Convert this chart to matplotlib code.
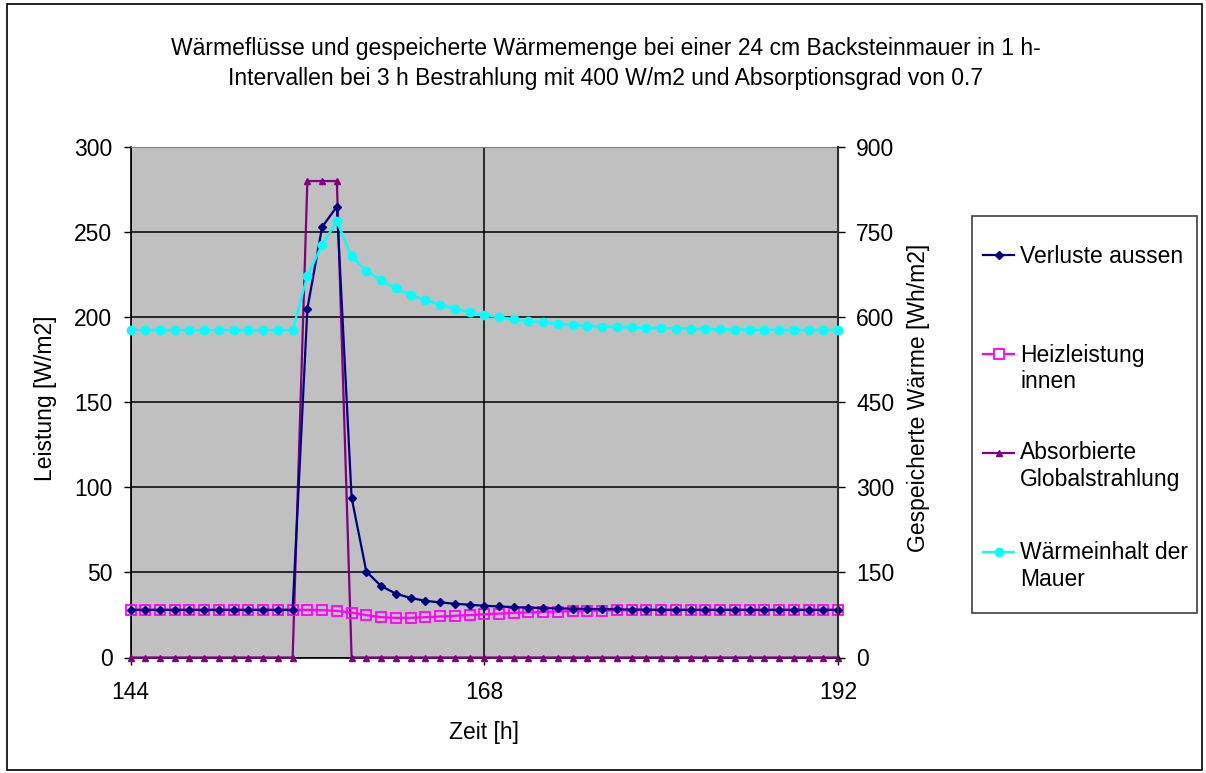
import matplotlib
matplotlib.use("Agg")
import matplotlib.pyplot as plt
from matplotlib.lines import Line2D
from matplotlib.patches import Rectangle

plt.rcParams['font.family'] = ['Liberation Sans', 'DejaVu Sans']

# ---------------- data ----------------
hours = list(range(144, 193))

verluste_aussen = [28]*12 + [205, 253, 265] + [
    94, 50.5, 42, 37.5, 35, 33.3, 32.4, 31.6, 31.0, 30.4, 30.0, 29.6, 29.3,
    29.1, 28.9, 28.7, 28.5, 28.4, 28.3, 28.2, 28.1] + [28]*13

heizleistung_innen = [28]*13 + [
    27.8, 27.4, 26.4, 24.9, 23.7, 23.3, 23.3, 23.7, 24.1, 24.5, 24.9, 25.4,
    25.8, 26.2, 26.5, 26.8, 27.0, 27.2, 27.4, 27.6, 27.7, 27.8, 27.9] + [28]*13

absorbierte_strahlung = [0]*12 + [280, 280, 280] + [0]*34

waermeinhalt = [577]*12 + [
    673, 728, 769, 707, 682, 665, 651, 639, 630, 622, 615, 609, 603.5, 600,
    596.5, 593.5, 590.6, 588.2, 586.5, 584.7, 583.5, 582.8, 581.8, 581.2,
    580.6, 580, 579.4, 578.8, 578.5, 578.2, 578, 577.7, 577.5, 577.3, 577.2,
    577.1, 577]

series_labels = ["Verluste aussen", "Heizleistung\ninnen",
                 "Absorbierte\nGlobalstrahlung", "Wärmeinhalt der\nMauer"]
title = ("Wärmeflüsse und gespeicherte Wärmemenge bei einer 24 cm Backsteinmauer in 1 h-\n"
         "Intervallen bei 3 h Bestrahlung mit 400 W/m2 und Absorptionsgrad von 0.7")
x_ticks = [144, 168, 192]
y_left_ticks = [0, 50, 100, 150, 200, 250, 300]
y_right_ticks = [0, 150, 300, 450, 600, 750, 900]

# ---------------- figure ----------------
W, H = 1206, 773
DPI = 100
fig = plt.figure(figsize=(W/DPI, H/DPI), dpi=DPI)
FS = 16.5

def fx(px):
    return px / W

def fy(py):
    return 1 - py / H

# outer chart border
fig.patches.append(Rectangle((fx(7), fy(770)), fx(1202) - fx(7), fy(4) - fy(770),
                             transform=fig.transFigure, fill=False,
                             edgecolor='black', linewidth=1.2))

L, R, T, B = 130.5, 838, 147, 657.5
ax = fig.add_axes([fx(L), fy(B), fx(R) - fx(L), fy(T) - fy(B)])
ax.set_facecolor('#C0C0C0')
ax.set_xlim(144, 192)
ax.set_ylim(0, 300)
ax.set_xticks(x_ticks)
ax.set_yticks(y_left_ticks)
ax.grid(True, color='black', linewidth=1.1)
ax.set_axisbelow(True)
ax.tick_params(axis='both', direction='out', length=5, width=1, labelsize=FS,
               color='black')
ax.tick_params(axis='x', pad=12)
ax.tick_params(axis='y', pad=8)
for s in ['left', 'bottom']:
    ax.spines[s].set_color('black')
    ax.spines[s].set_linewidth(1.2)
ax.spines['top'].set_color('#808080')
ax.spines['right'].set_color('#404040')

ax.plot(hours, absorbierte_strahlung, color='#800080', lw=1.6, marker='^',
        markersize=5, markerfacecolor='#800080', markeredgecolor='#800080',
        clip_on=False, zorder=3)
ax.plot(hours, heizleistung_innen, color='#FF00FF', lw=1.6, marker='s',
        markersize=6.5, markerfacecolor='none', markeredgecolor='#FF00FF',
        markeredgewidth=1.3, clip_on=False, zorder=3)
ax.plot(hours, verluste_aussen, color='#000080', lw=1.6, marker='D',
        markersize=4, markerfacecolor='#000080', markeredgecolor='#000080',
        clip_on=False, zorder=4)

ax2 = ax.twinx()
ax2.set_ylim(0, 900)
ax2.set_yticks(y_right_ticks)
ax2.tick_params(axis='y', direction='out', length=5, width=1, labelsize=FS, pad=8)
ax2.patch.set_visible(False)
for s in ax2.spines.values():
    s.set_visible(False)
ax2.spines['right'].set_visible(True)
ax2.spines['right'].set_color('#303030')
ax2.spines['right'].set_linewidth(1.5)
ax2.plot(hours, waermeinhalt, color='#00FFFF', lw=1.8, marker='o',
         markersize=6, markerfacecolor='#00FFFF', markeredgecolor='#00FFFF',
         clip_on=False, zorder=3)

# axis labels
fig.text(fx(46), fy(398), "Leistung [W/m2]", rotation=90, ha='center',
         va='center', fontsize=FS)
fig.text(fx(918), fy(398), "Gespeicherte Wärme [Wh/m2]", rotation=90,
         ha='center', va='center', fontsize=FS)
fig.text(fx(484), fy(733), "Zeit [h]", ha='center', va='center', fontsize=FS)

# title (va='baseline' anchors the last line's baseline)
fig.text(fx(606), fy(85), title, ha='center', va='baseline', fontsize=FS,
         linespacing=1.4, multialignment='center')

# legend (manual, Excel style)
fig.patches.append(Rectangle((fx(972), fy(613)), fx(1197) - fx(972),
                             fy(216) - fy(613), transform=fig.transFigure,
                             fill=True, facecolor='white', edgecolor='#404040',
                             linewidth=1.2))
styles = [
    dict(color='#000080', marker='D', markersize=4, markerfacecolor='#000080'),
    dict(color='#FF00FF', marker='s', markersize=6.5, markerfacecolor='white',
         markeredgewidth=1.3),
    dict(color='#800080', marker='^', markersize=5, markerfacecolor='#800080'),
    dict(color='#00FFFF', marker='o', markersize=6, markerfacecolor='#00FFFF'),
]
line_y = [255, 354, 453, 552]
last_base_y = [263.3, 388.3, 486, 586]
for lab, st, ly, by in zip(series_labels, styles, line_y, last_base_y):
    fig.add_artist(Line2D([fx(983), fx(1014)], [fy(ly), fy(ly)],
                          transform=fig.transFigure, lw=1.6,
                          markevery=[], **st))
    fig.add_artist(Line2D([fx(998.5)], [fy(ly)], transform=fig.transFigure,
                          lw=0, **st))
    fig.text(fx(1020), fy(by), lab, ha='left', va='baseline', fontsize=FS,
             linespacing=1.2)

fig.savefig("out.png", dpi=DPI)
